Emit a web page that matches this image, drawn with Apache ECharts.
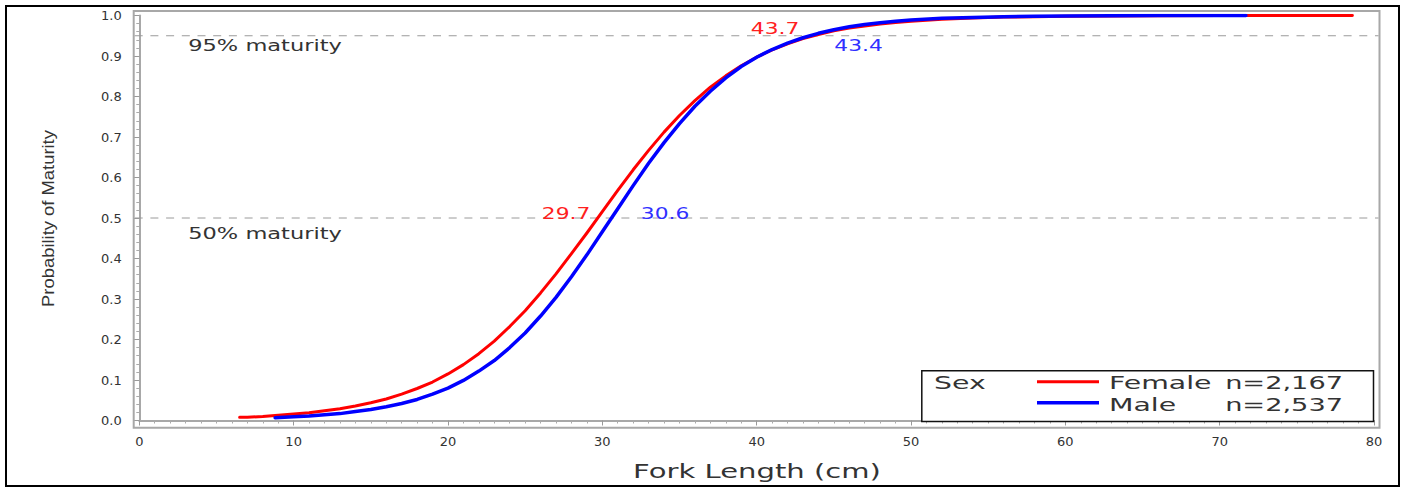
<!DOCTYPE html>
<html>
<head>
<meta charset="utf-8">
<script src="https://cdn.jsdelivr.net/npm/echarts@6/dist/echarts.min.js"></script>
<style>
html,body{margin:0;padding:0;background:#fff;}
#c{width:1405px;height:489px;}
</style>
</head>
<body>
<div id="c"></div>
<script>
// ---- data ----
const seriesNames = ['Female', 'Male'];
const sampleSizes = ['n=2,167', 'n=2,537'];
const legendTitle = 'Sex';

const femaleLength = [6.5,7,8,9,10,11,12,13,14,15,16,17,18,19,20,21,22,23,24,25,26,27,28,29,30,31,32,33,34,35,36,37,38,39,40,41,42,43,44,45,46,47,48,49,50,52,54,56,58,60,63,66,70,74,78.6];
const femaleProb = [0.008,0.008,0.010,0.013,0.016,0.019,0.024,0.029,0.036,0.044,0.053,0.065,0.079,0.095,0.115,0.138,0.165,0.196,0.232,0.271,0.315,0.362,0.412,0.463,0.516,0.568,0.619,0.667,0.712,0.753,0.790,0.823,0.851,0.876,0.897,0.915,0.930,0.943,0.953,0.962,0.969,0.974,0.979,0.983,0.986,0.991,0.994,0.996,0.997,0.998,0.999,0.9995,0.9998,0.9999,1.000];

const maleLength = [8.8,10,11,12,13,14,15,16,17,18,19,20,21,22,23,24,25,26,27,28,29,30,31,32,33,34,35,36,37,38,39,40,41,42,43,44,45,46,47,48,49,50,52,54,56,58,60,63,66,71.7];
const maleProb = [0.007,0.009,0.011,0.014,0.017,0.022,0.027,0.034,0.042,0.052,0.065,0.080,0.099,0.122,0.148,0.180,0.216,0.258,0.304,0.355,0.409,0.466,0.523,0.580,0.635,0.686,0.733,0.776,0.813,0.846,0.874,0.897,0.916,0.932,0.945,0.956,0.965,0.972,0.978,0.982,0.986,0.989,0.993,0.995,0.997,0.998,0.9988,0.9994,0.9997,0.9999];

const xTickLabels = ['0','10','20','30','40','50','60','70','80'];
const yTickLabels = ['0.0','0.1','0.2','0.3','0.4','0.5','0.6','0.7','0.8','0.9','1.0'];

const refLevels = [0.95, 0.5];
const refLabels = ['95% maturity', '50% maturity'];
const femaleL50 = '29.7', maleL50 = '30.6', femaleL95 = '43.7', maleL95 = '43.4';

const xTitle = 'Fork Length (cm)';
const yTitle = 'Probability of Maturity';

// ---- chart ----
const RED = '#ff0000', BLUE = '#0000ff', TXT = '#333333', GRAY = '#a8a8a8';
const chart = echarts.init(document.getElementById('c'), null, {renderer: 'svg'});

const option = {
  backgroundColor: '#ffffff',
  animation: false,
  grid: {left: 139.3, right: 31, top: 15.5, bottom: 68.5, containLabel: false},
  xAxis: {
    type: 'value', min: 0, max: 80, interval: 10, offset: 7.2,
    axisLine: {show: true, lineStyle: {color: GRAY, width: 2}},
    axisTick: {show: true, length: 5, lineStyle: {color: '#999'}},
    minorTick: {show: true, splitNumber: 10, length: 3, lineStyle: {color: '#aaa'}},
    splitLine: {show: false},
    axisLabel: {
      margin: 7, color: TXT, fontFamily: 'DejaVu Sans', fontSize: 13,
      formatter: (v) => xTickLabels[Math.round(v / 10)] ?? ''
    }
  },
  yAxis: {
    type: 'value', min: 0, max: 1, interval: 0.1, offset: 5.6,
    axisLine: {show: true, lineStyle: {color: GRAY, width: 2}},
    axisTick: {show: true, length: 6, lineStyle: {color: '#999'}},
    minorTick: {show: true, splitNumber: 5, length: 3, lineStyle: {color: '#aaa'}},
    splitLine: {show: false},
    axisLabel: {
      margin: 12, color: TXT, fontFamily: 'DejaVu Sans', fontSize: 13,
      formatter: (v) => yTickLabels[Math.round(v * 10)] ?? ''
    }
  },
  series: [
    {
      name: seriesNames[0], type: 'line', showSymbol: false, symbol: 'none',
      smooth: false, z: 3,
      lineStyle: {color: RED, width: 3, join: 'round', cap: 'round'}, itemStyle: {color: RED},
      data: femaleLength.map((x, i) => [x, femaleProb[i]])
    },
    {
      name: seriesNames[1], type: 'line', showSymbol: false, symbol: 'none',
      smooth: false, z: 4,
      lineStyle: {color: BLUE, width: 3.5, join: 'round', cap: 'round'}, itemStyle: {color: BLUE},
      data: maleLength.map((x, i) => [x, maleProb[i]])
    }
  ]
};
chart.setOption(option);

function txt(text, x, y, o) {
  return {
    type: 'text', x: x, y: y, scaleX: o.sx || 1, rotation: o.rot || 0, z: 20,
    style: {
      text: text, fill: o.color || TXT,
      fontFamily: o.family || 'DejaVu Sans', fontSize: o.size || 15,
      align: o.align || 'center', textAlign: o.align || 'center',
      verticalAlign: 'middle', textVerticalAlign: 'middle'
    }
  };
}

const frame = {x0: 133.7, y0: 11, x1: 1379.5, y1: 427.7};
const graphics = [];
// outer black border
graphics.push({type: 'rect', z: 1, shape: {x: 6, y: 6, width: 1393, height: 480},
  style: {fill: 'none', stroke: '#000', lineWidth: 2}});
// plot frame
graphics.push({type: 'rect', z: 1, shape: {x: frame.x0, y: frame.y0, width: frame.x1 - frame.x0, height: frame.y1 - frame.y0},
  style: {fill: 'none', stroke: GRAY, lineWidth: 2}});
// reference dashed lines
refLevels.forEach(function (lv) {
  const py = chart.convertToPixel({yAxisIndex: 0}, lv);
  graphics.push({type: 'line', z: 1, shape: {x1: frame.x0 + 1, y1: py, x2: frame.x1 - 1, y2: py},
    style: {stroke: '#9a9a9a', lineWidth: 1, lineDash: [8, 7.7]}});
});
// reference labels
graphics.push(txt(refLabels[0], 265, 46, {size: 15, sx: 1.5}));
graphics.push(txt(refLabels[1], 265, 233.5, {size: 15, sx: 1.5}));
// value labels
graphics.push(txt(femaleL95, 775, 28.5, {size: 15, sx: 1.45, color: '#ff2020'}));
graphics.push(txt(maleL95, 858.5, 45.5, {size: 15, sx: 1.45, color: '#3030ff'}));
graphics.push(txt(femaleL50, 566, 213.5, {size: 15, sx: 1.45, color: '#ff2020'}));
graphics.push(txt(maleL50, 665, 213.5, {size: 15, sx: 1.45, color: '#3030ff'}));
// axis titles
graphics.push(txt(xTitle, 757, 471, {size: 19, sx: 1.53}));
graphics.push(txt(yTitle, 48, 218.5, {size: 16, sx: 1.15, rot: Math.PI / 2, family: 'Liberation Sans'}));
// legend
graphics.push({type: 'rect', z: 15, shape: {x: 921.8, y: 370.8, width: 451.7, height: 50.7},
  style: {fill: '#fff', stroke: '#111', lineWidth: 1.5}});
graphics.push(txt(legendTitle, 934, 383.5, {size: 17, sx: 1.67, align: 'left'}));
graphics.push({type: 'line', z: 20, shape: {x1: 1037, y1: 381.7, x2: 1099, y2: 381.7}, style: {stroke: RED, lineWidth: 3}});
graphics.push({type: 'line', z: 20, shape: {x1: 1037, y1: 402.7, x2: 1099, y2: 402.7}, style: {stroke: BLUE, lineWidth: 3.5}});
graphics.push(txt(seriesNames[0], 1109, 383.5, {size: 17, sx: 1.67, align: 'left'}));
graphics.push(txt(seriesNames[1], 1109, 405, {size: 17, sx: 1.67, align: 'left'}));
graphics.push(txt(sampleSizes[0], 1343, 383.5, {size: 17, sx: 1.6, align: 'right'}));
graphics.push(txt(sampleSizes[1], 1343, 405, {size: 17, sx: 1.6, align: 'right'}));

chart.setOption({graphic: {elements: graphics}});
</script>
</body>
</html>
